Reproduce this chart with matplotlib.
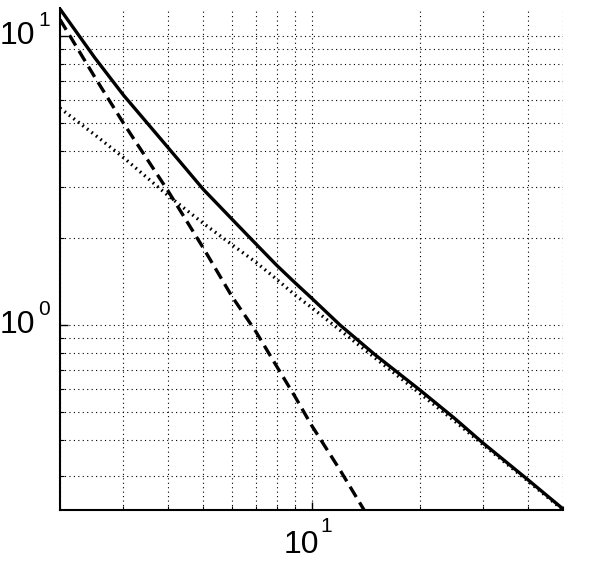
import matplotlib
matplotlib.use("Agg")
import matplotlib.pyplot as plt
import matplotlib.transforms as mtransforms
from matplotlib.ticker import LogLocator, FixedLocator, NullFormatter

plt.rcParams['font.family'] = ['Liberation Sans', 'DejaVu Sans']

# Data
x_solid = [2, 2.5, 3, 4, 5, 6, 7, 8, 9, 10, 12, 15, 20, 25, 30, 40, 50]
y_solid = [12.4, 8.4, 6.25, 4.1, 2.95, 2.33, 1.91, 1.61, 1.40, 1.24, 1.0, 0.79, 0.596, 0.475, 0.39, 0.291, 0.231]

x_dashed = [2, 2.5, 3, 4, 5, 6, 7, 8, 9, 10, 12, 14]
y_dashed = [11.4, 7.2, 5.0, 2.9, 1.85, 1.26, 0.95, 0.72, 0.565, 0.45, 0.315, 0.229]

x_dotted = [2, 2.5, 3, 4, 5, 6, 7, 8, 9, 10, 12, 15, 20, 25, 30, 40, 50]
y_dotted = [5.63, 4.55, 3.8, 2.8, 2.25, 1.9, 1.65, 1.44, 1.27, 1.15, 0.96, 0.77, 0.58, 0.465, 0.385, 0.288, 0.229]

x_limits = [2, 50]
y_limits = [0.229, 12.5]
x_major = [10]
x_major_exponents = ['1']
y_major = [1, 10]
y_major_exponents = ['0', '1']

fig = plt.figure(figsize=(5.94, 5.67), dpi=100)
ax = fig.add_axes([60/594, 57/567, 503/594, 502/567])

ax.plot(x_solid, y_solid, color='black', lw=2.4, linestyle='-', solid_capstyle='butt', zorder=3)
ax.plot(x_dashed, y_dashed, color='black', lw=2.4, linestyle=(0, (3.6, 1.9)), zorder=3)
ax.plot(x_dotted, y_dotted, color='black', lw=2.4, linestyle=(0, (0.5, 1.2)), zorder=3)

ax.set_xscale('log')
ax.set_yscale('log')
ax.set_xlim(*x_limits)
ax.set_ylim(*y_limits)

ax.xaxis.set_major_locator(FixedLocator(x_major))
ax.yaxis.set_major_locator(FixedLocator(y_major))
ax.xaxis.set_minor_locator(LogLocator(base=10, subs=range(2, 10), numticks=20))
ax.yaxis.set_minor_locator(LogLocator(base=10, subs=range(2, 10), numticks=20))
ax.xaxis.set_minor_formatter(NullFormatter())
ax.yaxis.set_minor_formatter(NullFormatter())

ax.grid(True, which='both', color='black', linestyle=(0, (1, 3)), linewidth=0.8)

for s in ['top', 'right']:
    ax.spines[s].set_visible(False)
for s in ['left', 'bottom']:
    ax.spines[s].set_linewidth(1.5)

ax.tick_params(which='both', direction='in', top=False, right=False,
               labelleft=False, labelbottom=False, colors='black')
ax.tick_params(which='major', length=6, width=1)
ax.tick_params(which='minor', length=3, width=0.8)

# MATLAB-style "10^n" tick labels built as base + superscript
base_size = 23
exp_size = 15
ytrans = mtransforms.blended_transform_factory(ax.transAxes, ax.transData)
xtrans = mtransforms.blended_transform_factory(ax.transData, ax.transAxes)

for v, e in zip(y_major, y_major_exponents):
    t_base = mtransforms.offset_copy(ytrans, fig=fig, x=-25, y=0, units='dots')
    ax.text(0, v, '10', transform=t_base, ha='right', va='center', fontsize=base_size, clip_on=False)
    t_exp = mtransforms.offset_copy(ytrans, fig=fig, x=-22, y=10, units='dots')
    ax.text(0, v, e, transform=t_exp, ha='left', va='baseline', fontsize=exp_size, clip_on=False)

for v, e in zip(x_major, x_major_exponents):
    t_base = mtransforms.offset_copy(xtrans, fig=fig, x=8, y=-35, units='dots')
    ax.text(v, 0, '10', transform=t_base, ha='right', va='center', fontsize=base_size, clip_on=False)
    t_exp = mtransforms.offset_copy(xtrans, fig=fig, x=9, y=-22, units='dots')
    ax.text(v, 0, e, transform=t_exp, ha='left', va='baseline', fontsize=exp_size, clip_on=False)

fig.savefig('out.png', dpi=100)
